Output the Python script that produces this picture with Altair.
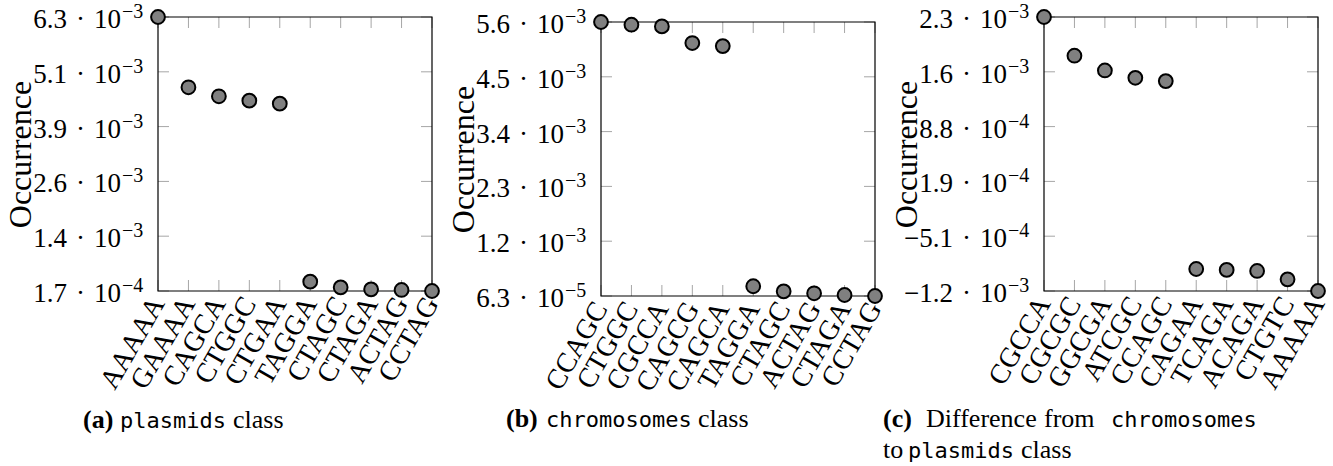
import altair as alt
import pandas as pd

# ---- (a) plasmids class -------------------------------------------------
kmers_a = ["AAAAA", "GAAAA", "CAGCA", "CTGGC", "CTGAA",
           "TAGGA", "CTAGC", "CTAGA", "ACTAG", "CCTAG"]
occ_a = [6.32e-3, 4.743e-3, 4.541e-3, 4.442e-3, 4.375e-3,
         3.81e-4, 2.55e-4, 2.10e-4, 1.95e-4, 1.72e-4]
yticks_a = [1.72e-4, 1.402e-3, 2.631e-3, 3.861e-3, 5.090e-3, 6.32e-3]
ymant_a = ["1.7", "1.4", "2.6", "3.9", "5.1", "6.3"]
yexp_a = ["−4", "−3", "−3", "−3", "−3", "−3"]

# ---- (b) chromosomes class ----------------------------------------------
kmers_b = ["CCAGC", "CTGGC", "CGCCA", "CAGCG", "CAGCA",
           "TAGGA", "CTAGC", "ACTAG", "CTAGA", "CCTAG"]
occ_b = [5.600e-3, 5.545e-3, 5.511e-3, 5.175e-3, 5.114e-3,
         2.60e-4, 1.58e-4, 1.18e-4, 8.3e-5, 6.3e-5]
yticks_b = [6.3e-5, 1.1704e-3, 2.2778e-3, 3.3852e-3, 4.4926e-3, 5.600e-3]
ymant_b = ["6.3", "1.2", "2.3", "3.4", "4.5", "5.6"]
yexp_b = ["−5", "−3", "−3", "−3", "−3", "−3"]

# ---- (c) difference chromosomes -> plasmids -----------------------------
kmers_c = ["CGCCA", "CGCGC", "GGCGA", "ATCGC", "CCAGC",
           "CAGAA", "TCAGA", "ACAGA", "CTGTC", "AAAAA"]
occ_c = [2.272e-3, 1.781e-3, 1.594e-3, 1.501e-3, 1.459e-3,
         -9.24e-4, -9.36e-4, -9.49e-4, -1.055e-3, -1.203e-3]
yticks_c = [-1.203e-3, -5.08e-4, 1.87e-4, 8.82e-4, 1.577e-3, 2.272e-3]
ymant_c = ["−1.2", "−5.1", "1.9", "8.8", "1.6", "2.3"]
yexp_c = ["−3", "−4", "−4", "−4", "−3", "−3"]

SERIF = "Liberation Serif"
MONO = "DejaVu Sans Mono"
W = H = 274
TICK_LEN = 11
TICK_COLOR = "#a6a6a6"
SP = "\u2004"  # three-per-em space around the multiplication dot


def caption_piece(text, x, y, font=SERIF, size=26, weight="normal"):
    return alt.Chart(pd.DataFrame({"t": [text]})).mark_text(
        font=font, fontSize=size, fontWeight=weight, align="left",
        baseline="alphabetic", color="black"
    ).encode(x=alt.value(x), y=alt.value(y), text="t:N")


def panel(kmers, occ, ticks, mant, expo, caption, top=0):
    """One scatter panel; `top` pushes the plot frame down inside its cell."""
    pts = pd.DataFrame({"kmer": kmers, "occ": occ})
    tk = pd.DataFrame({"occ": ticks,
                       "mant": [m + SP + "·" + SP + "10" for m in mant],
                       "exp": expo})
    kx = pd.DataFrame({"kmer": kmers})

    x_enc = alt.X(
        "kmer:N", sort=kmers,
        scale=alt.Scale(type="point", paddingOuter=0, padding=0),
        axis=alt.Axis(title=None, labelAngle=-60, labelAlign="right",
                      labelBaseline="middle", labelFont=SERIF, labelFontSize=28,
                      labelColor="black", labelPadding=8, labelOverlap=False,
                      ticks=False, tickSize=0, domain=False, grid=False),
    )
    y_enc = alt.Y(
        "occ:Q",
        scale=alt.Scale(domain=[ticks[0], ticks[-1]], nice=False, zero=False,
                        range=[H + top, top]),
        axis=alt.Axis(title="Occurrence", labels=False, ticks=False, tickSize=0,
                      domain=False, grid=False, titleFont=SERIF, titleFontSize=32,
                      titleFontWeight="normal", titleColor="black", titlePadding=121),
    )

    frame = alt.Chart(pd.DataFrame({"f": [0]})).mark_rect(
        fillOpacity=0, stroke="black", strokeWidth=1.2
    ).encode(x=alt.value(0), x2=alt.value(W), y=alt.value(top), y2=alt.value(H + top))

    # inward tick marks on all four sides
    xt_top = alt.Chart(kx).mark_rule(color=TICK_COLOR, strokeWidth=1).encode(
        x=x_enc, y=alt.value(top), y2=alt.value(top + TICK_LEN))
    xt_bot = alt.Chart(kx).mark_rule(color=TICK_COLOR, strokeWidth=1).encode(
        x=x_enc, y=alt.value(top + H - TICK_LEN), y2=alt.value(top + H))
    yt_left = alt.Chart(tk).mark_rule(color=TICK_COLOR, strokeWidth=1).encode(
        y=y_enc, x=alt.value(0), x2=alt.value(TICK_LEN))
    yt_right = alt.Chart(tk).mark_rule(color=TICK_COLOR, strokeWidth=1).encode(
        y=y_enc, x=alt.value(W - TICK_LEN), x2=alt.value(W))

    # y tick labels written as  m · 10^e
    ylab = alt.Chart(tk).mark_text(
        font=SERIF, fontSize=27, align="right", baseline="middle", dy=3, color="black"
    ).encode(y=y_enc, x=alt.value(-37), text="mant:N")
    ysup = alt.Chart(tk).mark_text(
        font=SERIF, fontSize=20, align="left", baseline="middle", dy=-5, color="black"
    ).encode(y=y_enc, x=alt.value(-36), text="exp:N")

    points = alt.Chart(pts).mark_point(
        shape="circle", filled=True, size=190, fill="#808080",
        stroke="black", strokeWidth=2, opacity=1
    ).encode(x=x_enc, y=y_enc)

    layers = [xt_top, xt_bot, yt_left, yt_right, frame, ylab, ysup, points] + caption
    return alt.layer(*layers).properties(width=W, height=H + top)


cap_a = [
    caption_piece("(a)", -75, 411, weight="bold"),
    caption_piece("plasmids", -38, 411, font=MONO, size=22),
    caption_piece("class", 75, 411),
]
cap_b = [
    caption_piece("(b)", -95, 410, weight="bold"),
    caption_piece("chromosomes", -55, 410, font=MONO, size=22),
    caption_piece("class", 97, 410),
]
cap_c = [
    caption_piece("(c)", -161, 410, weight="bold"),
    caption_piece("Difference", -118, 410),
    caption_piece("from", 0, 410),
    caption_piece("chromosomes", 67, 410, font=MONO, size=22),
    caption_piece("to", -161, 441),
    caption_piece("plasmids", -136, 441, font=MONO, size=22),
    caption_piece("class", -23, 441),
]

pa = panel(kmers_a, occ_a, yticks_a, ymant_a, yexp_a, cap_a)
pb = panel(kmers_b, occ_b, yticks_b, ymant_b, yexp_b, cap_b, top=5)
pc = panel(kmers_c, occ_c, yticks_c, ymant_c, yexp_c, cap_c)

chart = alt.hconcat(pa, pb, pc, spacing=169, bounds="flush").properties(
    padding={"left": 4, "top": 2, "right": 0, "bottom": 0}
).configure_view(stroke=None)

chart.save("out.html", embed_options={"renderer": "svg", "actions": False})
